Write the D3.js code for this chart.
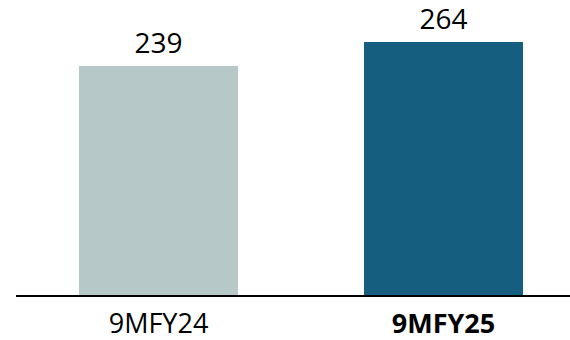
<!DOCTYPE html>
<html>
<head>
<meta charset="utf-8">
<script src="https://cdn.jsdelivr.net/npm/d3@7"></script>
<style>
  body { margin: 0; background: #fff; }
  svg { display: block; font-family: "Open Sans", "Liberation Sans", sans-serif; }
</style>
</head>
<body>
<div id="chart"></div>
<script>
const categories = ["9MFY24", "9MFY25"];
const values = [239, 264];
const barColors = ["#b6c8c8", "#165e80"];
const boldLabel = [false, true];

const width = 570, height = 340;
const baseline = 295;

const svg = d3.select("#chart")
    .append("svg")
    .attr("width", width)
    .attr("height", height);

const x = d3.scaleBand()
    .domain(categories)
    .range([16, 586])
    .paddingInner(0.442)
    .paddingOuter(0.221);

const y = d3.scaleLinear()
    .domain([0, 264])
    .range([baseline, 42]);

// bars
svg.append("g").selectAll("rect")
    .data(values)
    .enter()
    .append("rect")
    .attr("x", (d, i) => x(categories[i]))
    .attr("y", d => y(d))
    .attr("width", x.bandwidth())
    .attr("height", d => baseline - y(d))
    .attr("fill", (d, i) => barColors[i]);

// value labels
svg.append("g").selectAll("text")
    .data(values)
    .enter()
    .append("text")
    .attr("x", (d, i) => x(categories[i]) + x.bandwidth() / 2)
    .attr("y", d => y(d) - 13)
    .attr("text-anchor", "middle")
    .style("font-size", "28px")
    .attr("fill", "#000")
    .text(d => d);

// axis
const axis = svg.append("g")
    .attr("transform", "translate(0," + (baseline + 1) + ")")
    .call(d3.axisBottom(x).tickSize(0).tickPadding(12));

axis.select(".domain")
    .attr("d", "M16,0H570")
    .attr("stroke", "#000")
    .attr("stroke-width", 2);

axis.selectAll(".tick text")
    .attr("dy", "0.71em")
    .attr("y", 18)
    .style("font-size", "27px")
    .style("font-family", "\"Open Sans\", \"Liberation Sans\", sans-serif")
    .style("font-weight", (d, i) => boldLabel[i] ? "bold" : "normal")
    .attr("fill", "#000");
</script>
</body>
</html>
